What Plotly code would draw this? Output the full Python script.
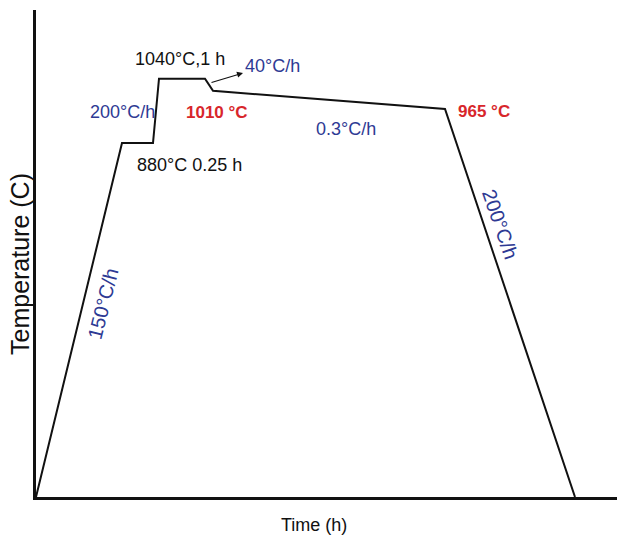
import plotly.graph_objects as go

# Schematic heat-treatment profile (time in arbitrary schematic units, temperature in °C)
time_pts = [0.0, 8.6, 11.7, 12.3, 16.9, 17.7, 40.9, 53.9]
temp_pts = [0, 880, 880, 1040, 1040, 1010, 965, 0]

x_range = [0, 58.1]
y_range = [0, 1211]

W, H = 617, 547
L, R, T, B = 36, 0, 10, 50
PW, PH = W - L - R, H - T - B

BLUE = "#2e3a94"
RED = "#d8262b"
BLACK = "#111111"
FONT = "Arial, Liberation Sans, sans-serif"


def px(xp, yp):
    """pixel position -> paper coordinates"""
    return (xp - L) / PW, (H - B - yp) / PH


fig = go.Figure()
fig.add_trace(go.Scatter(x=time_pts, y=temp_pts, mode="lines",
                         line=dict(color=BLACK, width=2), hoverinfo="skip",
                         showlegend=False))

labels = [
    ("1040°C,1 h", 180, 59, BLACK, False, 0, 18),
    ("40°C/h", 272, 66, BLUE, False, 0, 18),
    ("200°C/h", 122, 112, BLUE, False, 0, 18),
    ("1010 °C", 217, 112, RED, True, 0, 17),
    ("880°C 0.25 h", 189, 165, BLACK, False, 0, 18),
    ("0.3°C/h", 346, 129, BLUE, False, 0, 18),
    ("965 °C", 484, 111, RED, True, 0, 17),
    ("150°C/h", 103, 304, BLUE, False, -76, 20),
    ("200°C/h", 500, 224, BLUE, False, 71, 20),
]

annotations = []
for text, xp, yp, col, bold, ang, sz in labels:
    xx, yy = px(xp, yp)
    annotations.append(dict(
        x=xx, y=yy, xref="paper", yref="paper", showarrow=False,
        text=f"<b>{text}</b>" if bold else text, textangle=ang,
        font=dict(family=FONT, size=sz, color=col),
        xanchor="center", yanchor="middle"))

# arrow for the 40°C/h cooling step
hx, hy = px(243, 73)
annotations.append(dict(x=hx, y=hy, xref="paper", yref="paper", showarrow=True,
                        ax=-33, ay=10, arrowhead=2, arrowsize=1, arrowwidth=1.2,
                        arrowcolor=BLACK, text=""))

# axis titles
tx, ty = px(314, 525)
annotations.append(dict(x=tx, y=ty, xref="paper", yref="paper", showarrow=False,
                        text="Time (h)", font=dict(family=FONT, size=18, color=BLACK),
                        xanchor="center", yanchor="middle"))
tx, ty = px(20, 264)
annotations.append(dict(x=tx, y=ty, xref="paper", yref="paper", showarrow=False,
                        text="Temperature (C)", textangle=-90,
                        font=dict(family=FONT, size=25, color=BLACK),
                        xanchor="center", yanchor="middle"))

fig.update_layout(
    width=W, height=H,
    margin=dict(l=L, r=R, t=T, b=B),
    paper_bgcolor="white", plot_bgcolor="white",
    annotations=annotations,
    xaxis=dict(range=x_range, showgrid=False, zeroline=False, showticklabels=False,
               ticks="", showline=True, linecolor=BLACK, linewidth=3),
    yaxis=dict(range=y_range, showgrid=False, zeroline=False, showticklabels=False,
               ticks="", showline=True, linecolor=BLACK, linewidth=3),
)

fig.write_html("out.html")
